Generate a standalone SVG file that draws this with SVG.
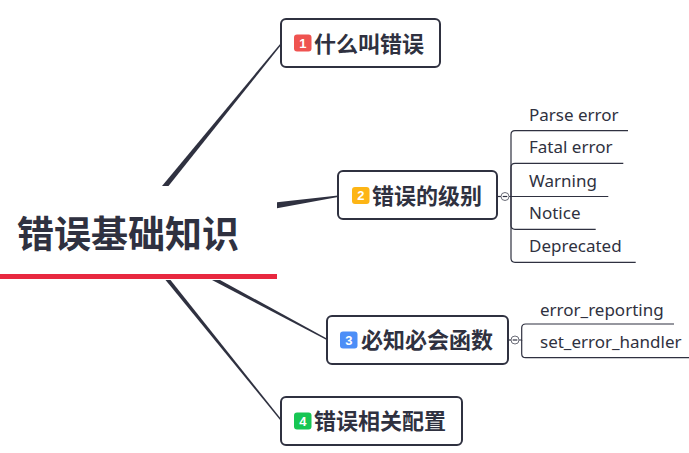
<svg xmlns="http://www.w3.org/2000/svg" width="689" height="453" viewBox="0 0 689 453">
<style>
.box{fill:#fff;stroke:#2f3140;stroke-width:2}
.main{font-family:"Noto Sans CJK SC","Noto Sans",sans-serif;font-weight:bold;font-size:22px;fill:#2f3140}
.num{font-family:"Liberation Sans",Arial,sans-serif;font-weight:bold;font-size:13px;fill:#fff;text-anchor:middle}
.sub{font-family:"Noto Sans","Open Sans",sans-serif;font-size:17px;fill:#2f3140}
.tap{fill:#2f3140}
.thin{fill:none;stroke:#2f3140;stroke-width:1.2}
.fold{fill:#fff;stroke:#6b6d78;stroke-width:1}
</style>
<rect width="689" height="453" fill="#fff"/>
<g id="connectors">
<polygon class="tap" points="162,186 168.5,186 281.5,44.5 280.5,43.5"/>
<polygon class="tap" points="277,202.3 277,208.3 338,197 338,195.6"/>
<polygon class="tap" points="212,280 220,280 327.3,338.7 326.7,339.9"/>
<polygon class="tap" points="165.5,280 170.5,280 281.5,419.6 280.5,420.4"/>
<path class="thin" d="M497,196.5 H501"/>
<path class="thin" d="M509,196.5 H511 V134.7 Q511,130.7 515,130.7 H628"/>
<path class="thin" d="M511,196.5 V167.3 Q511,163.3 515,163.3 H623.3"/>
<path class="thin" d="M509,196.5 H608.3"/>
<path class="thin" d="M511,196.5 V225.3 Q511,229.3 515,229.3 H595.7"/>
<path class="thin" d="M511,196.5 V258.3 Q511,262.3 515,262.3 H635.7"/>
<path class="thin" d="M508,340 H511"/>
<path class="thin" d="M519,340 H521.7 V328 Q521.7,324 525.7,324 H674"/>
<path class="thin" d="M521.7,340 V353.7 Q521.7,357.7 525.7,357.7 H689"/>
<circle class="fold" cx="505" cy="196.5" r="4"/>
<path class="thin" d="M502.7,196.5 H507.3" stroke-width="1"/>
<circle class="fold" cx="515" cy="340" r="4"/>
<path class="thin" d="M512.7,340 H517.3" stroke-width="1"/>
</g>
<g id="root">
<text x="17" y="248" font-family="'Noto Sans CJK SC','Noto Sans',sans-serif" font-weight="bold" font-size="37" fill="#2f3140">错误基础知识</text>
<rect x="0" y="274" width="277" height="5" fill="#e8283f"/>
</g>
<g id="node1">
<rect class="box" x="281" y="19" width="159" height="48" rx="5"/>
<rect x="294" y="34.5" width="17.5" height="17" rx="3" fill="#ef5350"/>
<text class="num" x="302.8" y="47.6">1</text>
<text class="main" x="314" y="51.5">什么叫错误</text>
</g>
<g id="node2">
<rect class="box" x="338" y="171" width="159" height="48" rx="5"/>
<rect x="352" y="187" width="17.5" height="17" rx="3" fill="#fdb515"/>
<text class="num" x="360.8" y="200.1">2</text>
<text class="main" x="372" y="203.5">错误的级别</text>
</g>
<g id="node2-children">
<text class="sub" x="529" y="120.7">Parse error</text>
<text class="sub" x="529" y="153.3">Fatal error</text>
<text class="sub" x="529" y="186.5">Warning</text>
<text class="sub" x="529" y="219.3">Notice</text>
<text class="sub" x="529" y="252.3">Deprecated</text>
</g>
<g id="node3">
<rect class="box" x="327" y="316" width="181" height="48" rx="5"/>
<rect x="340" y="331.5" width="17.5" height="17" rx="3" fill="#4c8ef7"/>
<text class="num" x="348.8" y="344.6">3</text>
<text class="main" x="361" y="348">必知必会函数</text>
</g>
<g id="node3-children">
<text class="sub" x="540" y="315.5">error_reporting</text>
<text class="sub" x="540" y="347.5">set_error_handler</text>
</g>
<g id="node4">
<rect class="box" x="281" y="397" width="181" height="48" rx="5"/>
<rect x="294" y="412.5" width="17.5" height="17" rx="3" fill="#17c653"/>
<text class="num" x="302.8" y="425.6">4</text>
<text class="main" x="314" y="429">错误相关配置</text>
</g>
</svg>
